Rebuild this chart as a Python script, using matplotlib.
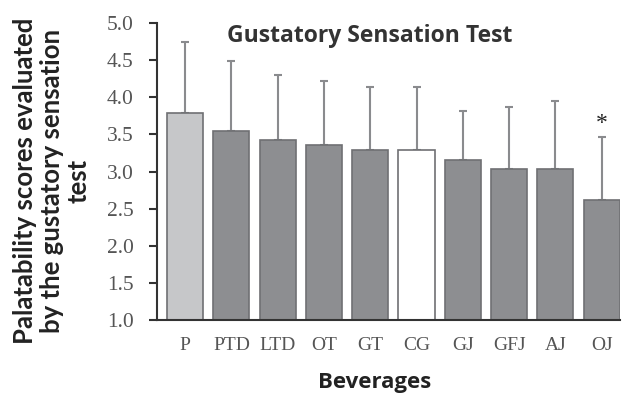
import matplotlib
matplotlib.use("Agg")
import matplotlib.pyplot as plt

categories = ["P", "PTD", "LTD", "OT", "GT", "CG", "GJ", "GFJ", "AJ", "OJ"]
means = [3.79, 3.55, 3.42, 3.36, 3.29, 3.29, 3.16, 3.03, 3.03, 2.61]
upper = [4.75, 4.49, 4.30, 4.22, 4.14, 4.14, 3.81, 3.87, 3.95, 3.47]
colors = ["#c6c7c9", "#8d8e91", "#8d8e91", "#8d8e91", "#8d8e91",
          "#ffffff", "#8d8e91", "#8d8e91", "#8d8e91", "#8d8e91"]
significant = [False] * 9 + [True]

fig = plt.figure(figsize=(6.22, 3.98), dpi=100)
ax = fig.add_axes([0.253, 0.196, 0.744, 0.746])

x = list(range(len(categories)))
base = 1.0
heights = [m - base for m in means]
errs = [u - m for u, m in zip(upper, means)]
ax.bar(x, heights, bottom=base, width=0.78, color=colors,
       edgecolor="#6f7073", linewidth=1.2, zorder=2)
ax.errorbar(x, means, yerr=[[0] * len(errs), errs], fmt="none",
            ecolor="#8a8b8e", elinewidth=1.5, capsize=3, capthick=1.5, zorder=1)
for xi, u, s in zip(x, upper, significant):
    if s:
        ax.text(xi, u + 0.03, "*", ha="center", va="bottom",
                fontsize=17, color="#222222", family="Liberation Serif")

ax.set_ylim(1.0, 5.0)
ax.set_xlim(-0.6, 9.4)
ax.set_yticks([1.0, 1.5, 2.0, 2.5, 3.0, 3.5, 4.0, 4.5, 5.0])
ax.set_yticklabels([f"{v:.1f}" for v in ax.get_yticks()])
ax.set_xticks(x)
ax.set_xticklabels(categories)
for lab in ax.get_xticklabels():
    lab.set_family("Liberation Serif")
    lab.set_fontsize(14)
    lab.set_color("#555555")
for lab in ax.get_yticklabels():
    lab.set_family("Liberation Serif")
    lab.set_fontsize(15.5)
    lab.set_color("#555555")
ax.tick_params(axis="x", length=0, pad=12)
ax.tick_params(axis="y", length=6, width=1.5, color="#333333", pad=11)

ax.spines["top"].set_visible(False)
ax.spines["right"].set_visible(False)
ax.spines["left"].set_color("#333333")
ax.spines["left"].set_linewidth(1.5)
ax.spines["bottom"].set_color("#333333")
ax.spines["bottom"].set_linewidth(1.5)

fig.text(0.595, 0.91, "Gustatory Sensation Test", ha="center", va="center",
         fontsize=16.5, fontweight="bold", family="Open Sans", color="#333333")
fig.text(0.603, 0.04, "Beverages", ha="center", va="center",
         fontsize=16, fontweight="bold", family="Open Sans", color="#222222")
fig.text(0.083, 0.545, "Palatability scores evaluated\nby the gustatory sensation\ntest",
         ha="center", va="center", rotation=90, fontsize=18.5, fontweight="bold",
         family="Lato", color="#222222", linespacing=1.15)

fig.savefig("out.png", dpi=100)
